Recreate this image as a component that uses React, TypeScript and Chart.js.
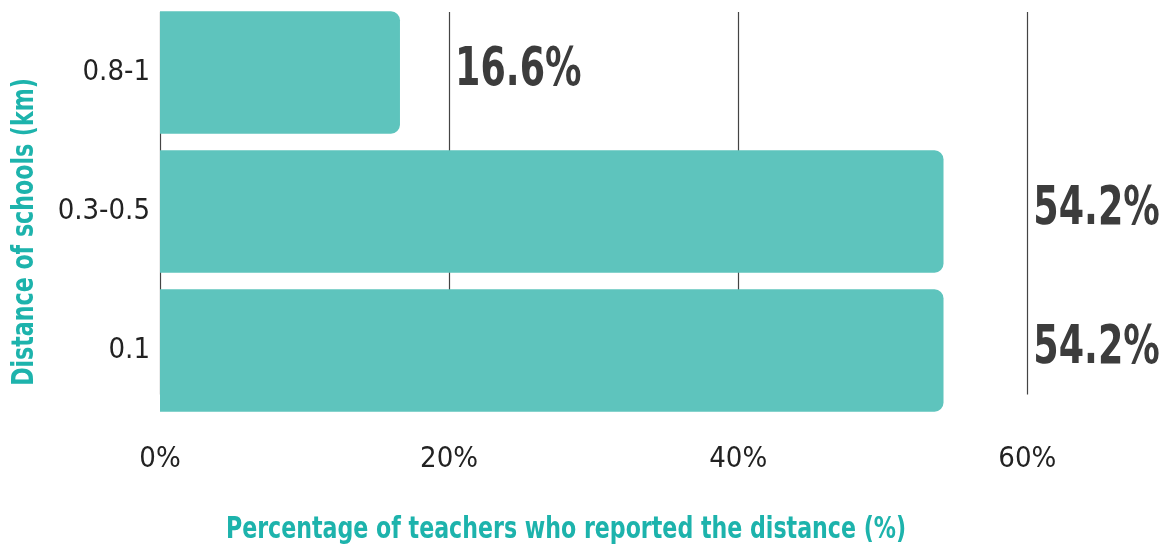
import React, { useEffect, useRef } from "react";
import { Chart, registerables } from "chart.js";

Chart.register(...registerables);

const categories = ["0.8-1", "0.3-0.5", "0.1"];
const values = [16.6, 54.2, 54.2];
const valueLabels = ["16.6%", "54.2%", "54.2%"];
const xTicks = [0, 20, 40, 60];
const xTitle = "Percentage of teachers who reported the distance (%)";
const yTitle = "Distance of schools (km)";

const NARROW = "'Liberation Sans Narrow', 'DejaVu Sans Condensed', 'Arial Narrow', sans-serif";
const TEAL = "#1db3ac";
const BAR = "#5ec4bd";

const gridPlugin = {
  id: "customGrid",
  beforeDatasetsDraw(chart: any) {
    const { ctx, scales, chartArea } = chart;
    const x = scales.x;
    const top = chartArea.top + 9;
    const bottom = chartArea.top + (chartArea.bottom - chartArea.top) * 0.939;
    ctx.save();
    ctx.strokeStyle = "#444";
    ctx.lineWidth = 1.2;
    xTicks.forEach((t) => {
      const px = Math.round(x.getPixelForValue(t)) + 0.5;
      ctx.beginPath();
      ctx.moveTo(px, top);
      ctx.lineTo(px, bottom);
      ctx.stroke();
    });
    ctx.restore();
  },
};

const labelPlugin = {
  id: "valueLabels",
  afterDatasetsDraw(chart: any) {
    const { ctx, scales } = chart;
    const meta = chart.getDatasetMeta(0);
    meta.data.forEach((el: any, i: number) => {
      // label sits just right of the next grid line after the bar end
      const next = xTicks.find((t) => t > values[i]) ?? xTicks[xTicks.length - 1];
      const lx = scales.x.getPixelForValue(next) + 6;
      ctx.save();
      ctx.fillStyle = "#3c3c3c";
      ctx.font = `bold 54px ${NARROW}`;
      ctx.textAlign = "left";
      ctx.textBaseline = "middle";
      ctx.translate(lx, el.y - 2);
      ctx.scale(0.75, 1);
      ctx.fillText(valueLabels[i], 0, 0);
      ctx.restore();
    });
  },
};

const titlePlugin = {
  id: "axisTitles",
  afterDraw(chart: any) {
    const { ctx } = chart;
    ctx.save();
    ctx.fillStyle = TEAL;
    ctx.font = `bold 30px ${NARROW}`;
    ctx.textAlign = "center";
    ctx.textBaseline = "middle";
    ctx.save();
    ctx.translate(566, 530);
    ctx.scale(0.82, 1);
    ctx.fillText(xTitle, 0, 0);
    ctx.restore();
    ctx.translate(25, 232);
    ctx.rotate(-Math.PI / 2);
    ctx.scale(0.82, 1);
    ctx.fillText(yTitle, 0, 0);
    ctx.restore();
  },
};

export default function App() {
  const ref = useRef<HTMLCanvasElement | null>(null);

  useEffect(() => {
    document.body.style.margin = "0";
    if (!ref.current) return;
    const chart = new Chart(ref.current, {
      type: "bar",
      data: {
        labels: categories,
        datasets: [
          {
            data: values,
            backgroundColor: BAR,
            borderRadius: 9,
            borderSkipped: "start",
            barPercentage: 0.88,
            categoryPercentage: 1,
          },
        ],
      },
      options: {
        indexAxis: "y",
        animation: false,
        responsive: true,
        maintainAspectRatio: false,
        layout: { padding: { top: 3, right: 20, left: 0, bottom: 0 } },
        plugins: {
          legend: { display: false },
          tooltip: { enabled: false },
          title: { display: false },
        },
        scales: {
          x: {
            type: "linear",
            min: 0,
            max: 68,
            grid: { display: false, drawTicks: false },
            border: { display: false },
            afterBuildTicks(scale: any) {
              scale.ticks = xTicks.map((v) => ({ value: v }));
            },
            afterFit(scale: any) {
              scale.height = 131;
              scale.paddingLeft = 0;
              scale.paddingRight = 0;
            },
            ticks: {
              padding: 22,
              color: "#222",
              font: { family: NARROW, size: 29 },
              callback: (v: any) => `${v}%`,
              maxRotation: 0,
            },
          },
          y: {
            type: "category",
            grid: { display: false, drawTicks: false },
            border: { display: false },
            afterFit(scale: any) {
              scale.width = 160;
              scale.paddingTop = 0;
              scale.paddingBottom = 0;
            },
            ticks: {
              padding: 10,
              color: "#222",
              font: { family: NARROW, size: 29 },
            },
          },
        },
      },
      plugins: [gridPlugin, labelPlugin, titlePlugin],
    });
    return () => chart.destroy();
  }, []);

  return (
    <div style={{ width: 1163, height: 551, position: "relative" }}>
      <canvas ref={ref} />
    </div>
  );
}
